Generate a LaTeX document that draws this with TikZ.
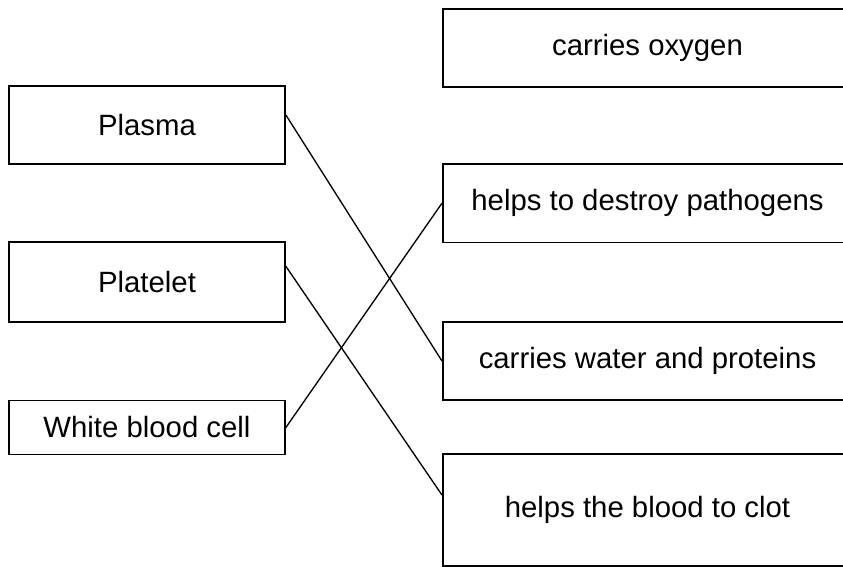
\documentclass[tikz,border=0pt]{standalone}
\usepackage{fontspec}
\setmainfont{Liberation Sans}
\usetikzlibrary{calc}
\begin{document}
\begin{tikzpicture}
        [x=0.75pt,y=-0.75pt,
        every node/.style={draw=black,rectangle,line width=1.3pt,inner sep=0pt,
          font=\fontsize{22pt}{25pt}\selectfont},
        cellbox/.style={minimum width=207pt,minimum height=59pt},
        rolebox/.style={minimum width=307pt,minimum height=59pt},
        link/.style={draw=black,line width=1pt}]
        \clip (0,0) rectangle (843,567);
        % left column
        \node[cellbox] (plasma) at (147,125) {Plasma};
        \node[cellbox,minimum height=60pt] (platelet) at (147,282.3) {Platelet};
        \node[cellbox,minimum height=40.5pt] (wbc) at (147,427.5) {White blood cell};
        % right column
        \node[rolebox] (oxygen) at (647.5,48) {carries oxygen};
        \node[rolebox] (pathogens) at (647.5,203.2) {helps to destroy pathogens};
        \node[rolebox] (water) at (647.5,361) {carries water and proteins};
        \node[rolebox,minimum height=84pt] (clot) at (647.5,510) {helps the blood to clot};
        % matching lines
        \draw[link] ($(plasma.east)+(0,-10)$) -- (water.west);
        \draw[link] ($(platelet.east)+(0,-16)$) -- ($(clot.west)+(0,-15)$);
        \draw[link] (wbc.east) -- (pathogens.west);
\end{tikzpicture}
\end{document}
